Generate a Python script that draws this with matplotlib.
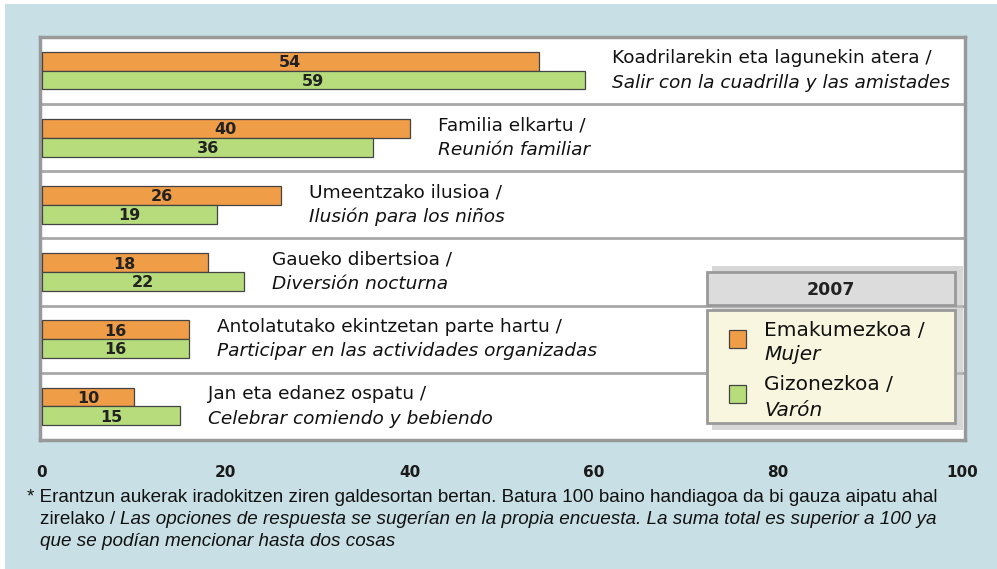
import numpy as np
import matplotlib.pyplot as plt
from matplotlib.patches import Rectangle

# Data
cats_eu = ["Koadrilarekin eta lagunekin atera /", "Familia elkartu /",
           "Umeentzako ilusioa /", "Gaueko dibertsioa /",
           "Antolatutako ekintzetan parte hartu /", "Jan eta edanez ospatu /"]
cats_es = ["Salir con la cuadrilla y las amistades", "Reunión familiar",
           "Ilusión para los niños", "Diversión nocturna",
           "Participar en las actividades organizadas", "Celebrar comiendo y bebiendo"]
mujer = [54, 40, 26, 18, 16, 10]
varon = [59, 36, 19, 22, 16, 15]
xticks = [0, 20, 40, 60, 80, 100]

orange = "#f09d48"
green = "#b6dc7b"
bg = "#c8e0e5"
narrow = ["Liberation Sans", "DejaVu Sans"]

fig = plt.figure(figsize=(9.97, 5.69), dpi=100)
fig.patch.set_facecolor("white")
fig.add_artist(Rectangle((5 / 997, 0), 1, 1 - 4 / 569, transform=fig.transFigure,
                         facecolor=bg, edgecolor="none", zorder=0))

ax = fig.add_axes([40 / 997, 129 / 569, 925 / 997, 403 / 569])
ax.set_facecolor("white")
ax.set_xlim(-0.2, 100.3)
ax.set_ylim(6, 0)

n = len(mujer)
y = np.arange(n) + 0.5
h = 0.28
ax.barh(y - h / 2, mujer, height=h, color=orange, edgecolor="#444444", linewidth=0.9, zorder=3)
ax.barh(y + h / 2, varon, height=h, color=green, edgecolor="#444444", linewidth=0.9, zorder=3)

for i in range(n):
    ax.text(mujer[i] / 2, y[i] - h / 2 + 0.02, str(mujer[i]), ha="center", va="center",
            fontsize=11.5, fontweight="bold", color="#222222", zorder=4)
    ax.text(varon[i] / 2, y[i] + h / 2 + 0.02, str(varon[i]), ha="center", va="center",
            fontsize=11.5, fontweight="bold", color="#222222", zorder=4)
    xm = max(mujer[i], varon[i]) + 3.0
    ax.text(xm, y[i] - 0.18, cats_eu[i], ha="left", va="center", fontsize=13.3, color="#111111")
    ax.text(xm, y[i] + 0.18, cats_es[i], ha="left", va="center", fontsize=13.3,
            style="italic", color="#111111")

for b in range(1, n):
    ax.axhline(b, color="#a8a8a8", linewidth=2, zorder=1)

for s in ax.spines.values():
    s.set_color("#999999")
    s.set_linewidth(2.5)

ax.set_yticks([])
ax.set_xticks(xticks)
ax.tick_params(axis="x", length=0, pad=18)
for lab in ax.get_xticklabels():
    lab.set_fontsize(11)
    lab.set_fontweight("bold")
    lab.set_color("#1a1a1a")

# legend boxes
def fig_rect(x0, y0, x1, y1, **kw):
    r = Rectangle((x0 / 997, 1 - y1 / 569), (x1 - x0) / 997, (y1 - y0) / 569,
                  transform=fig.transFigure, **kw)
    fig.add_artist(r)
    return r

fig_rect(712, 266, 963, 430, facecolor="#bdbdbd", edgecolor="none", zorder=5, alpha=0.6)
fig_rect(707, 272, 955, 305, facecolor="#dcdcdc", edgecolor="#999999", linewidth=2, zorder=6)
fig_rect(707, 310, 955, 423, facecolor="#f8f6de", edgecolor="#999999", linewidth=2, zorder=6)
fig_rect(729, 330, 746, 348, facecolor=orange, edgecolor="#444444", linewidth=0.9, zorder=7)
fig_rect(729, 385, 746, 403, facecolor=green, edgecolor="#444444", linewidth=0.9, zorder=7)
fig.text(831 / 997, 1 - 290 / 569, "2007", ha="center", va="center", fontsize=12.5,
         fontweight="bold", color="#222222", zorder=8)
leg = [("Emakumezkoa /", 330, "normal"), ("Mujer", 355, "italic"),
       ("Gizonezkoa /", 385, "normal"), ("Varón", 410, "italic")]
for txt, py, st in leg:
    fig.text(764 / 997, 1 - py / 569, txt, ha="left", va="center", fontsize=14.5,
             style=st, color="#111111", zorder=8)

# footnote
fs = 13.6
fig.text(27 / 997, 1 - 498 / 569,
         "* Erantzun aukerak iradokitzen ziren galdesortan bertan. Batura 100 baino handiagoa da bi gauza aipatu ahal",
         ha="left", va="center", fontsize=fs, family=narrow, color="#111111")
t1 = fig.text(40 / 997, 1 - 520 / 569, "zirelako / ", ha="left", va="center", fontsize=fs,
              family=narrow, color="#111111")
fig.canvas.draw()
bb = t1.get_window_extent()
fig.text(bb.x1 / fig.bbox.width, 1 - 520 / 569,
         "Las opciones de respuesta se sugerían en la propia encuesta. La suma total es superior a 100 ya",
         ha="left", va="center", fontsize=fs, family=narrow, style="italic", color="#111111")
fig.text(40 / 997, 1 - 542 / 569, "que se podían mencionar hasta dos cosas", ha="left",
         va="center", fontsize=fs, family=narrow, style="italic", color="#111111")

plt.savefig("out.png", dpi=100, facecolor=fig.get_facecolor())
